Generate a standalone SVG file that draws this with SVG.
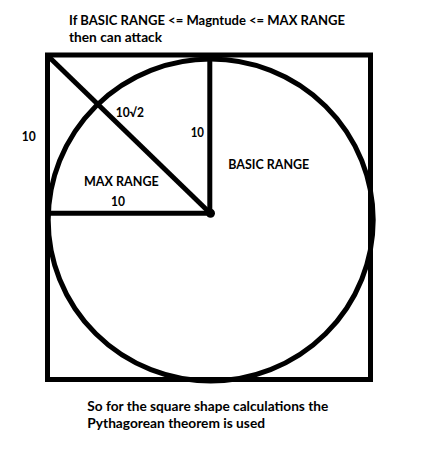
<svg xmlns="http://www.w3.org/2000/svg" width="425" height="450" viewBox="0 0 425 450">
<style>
.t{font-family:Lato,"Liberation Sans",sans-serif;font-weight:bold;font-size:12.8px;fill:#000}
.s{fill:none;stroke:#000;stroke-width:5}
</style>
<rect width="425" height="450" fill="#fff"/>
<g id="square"><rect class="s" x="47.5" y="55" width="323" height="324.5"/></g>
<g id="circle"><ellipse class="s" cx="210.7" cy="220" rx="162.5" ry="161"/></g>
<g id="connectors">
<line class="s" x1="209.8" y1="55" x2="209.8" y2="213"/>
<line class="s" x1="47" y1="213.3" x2="210" y2="213.3"/>
<line class="s" x1="48" y1="56" x2="210" y2="213"/>
</g>
<g id="center"><circle cx="210.5" cy="213.2" r="4.5" fill="#000"/></g>
<g id="labels">
<text class="t" x="69" y="25" textLength="276" lengthAdjust="spacingAndGlyphs">If BASIC RANGE &lt;= Magntude &lt;= MAX RANGE</text>
<text class="t" x="69" y="42.3" textLength="93" lengthAdjust="spacingAndGlyphs">then can attack</text>
<text class="t" x="115.7" y="116.7" textLength="28.3" lengthAdjust="spacingAndGlyphs">10√2</text>
<text class="t" x="190.7" y="136.7" textLength="13.3" lengthAdjust="spacingAndGlyphs">10</text>
<text class="t" x="21.7" y="141.3" textLength="14" lengthAdjust="spacingAndGlyphs">10</text>
<text class="t" x="228.3" y="169" textLength="81" lengthAdjust="spacingAndGlyphs">BASIC RANGE</text>
<text class="t" x="84" y="186" textLength="74.7" lengthAdjust="spacingAndGlyphs">MAX RANGE</text>
<text class="t" x="111" y="205.7" textLength="14" lengthAdjust="spacingAndGlyphs">10</text>
<text class="t" x="87.3" y="411" textLength="241" lengthAdjust="spacingAndGlyphs">So for the square shape calculations the</text>
<text class="t" x="87.3" y="428.3" textLength="177.7" lengthAdjust="spacingAndGlyphs">Pythagorean theorem is used</text>
</g>
</svg>
